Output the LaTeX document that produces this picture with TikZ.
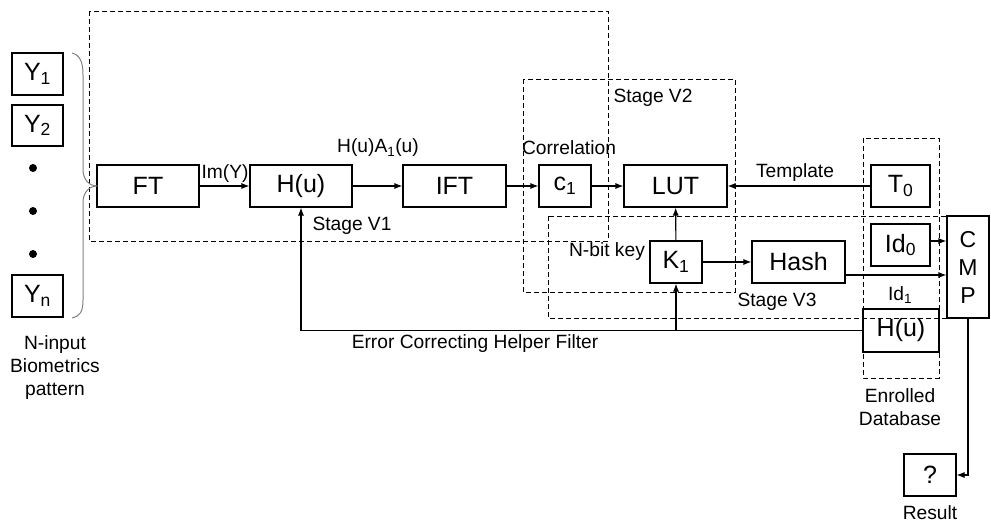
\documentclass[tikz,border=0pt]{standalone}
\usepackage{fontspec}
\setmainfont{Liberation Sans}
\usepackage{tikz}
\usetikzlibrary{arrows.meta}

\begin{document}
\begin{tikzpicture}[x=1pt,y=-1pt,
  box/.style={draw, line width=1.1pt, inner sep=0pt, font=\fontsize{25}{29}\selectfont},
  lbl/.style={inner sep=0pt, font=\fontsize{19.2}{23}\selectfont, align=center},
  arr/.style={line width=1.1pt, -{Latex[length=8pt,width=6pt]}},
  region/.style={line width=0.9pt, dash pattern=on 5pt off 3pt}]
\useasboundingbox (0,0) rectangle (991,524);

% stages
\draw[region] (89,11) rectangle (608,241);
\draw[region] (523,79) rectangle (735,292);
\draw[region] (548,216) rectangle (989,318);
\draw[region] (863,138) rectangle (939,378);

% input pattern
\node[box, minimum width=51, minimum height=42] (y1) at (37.5,74) {Y\textsubscript{1}};
\node[box, minimum width=51, minimum height=41] (y2) at (37.5,125.5) {Y\textsubscript{2}};
\node[box, minimum width=51, minimum height=42] (yn) at (37.5,296) {Y\textsubscript{n}};
\foreach \dy in {168,211,254}
  \fill (33,\dy) circle (4pt);
\node[lbl] (inlbl) at (55,368) {N-input\\Biometrics\\pattern};

% processing chain
\node[box, minimum width=102, minimum height=42] (ft) at (148,186) {FT};
\node[box, minimum width=102, minimum height=42] (hu) at (301,186) {H(u)};
\node[box, minimum width=103, minimum height=42] (ift) at (454.5,186) {IFT};
\node[box, minimum width=52, minimum height=42] (cone) at (565,186) {c\textsubscript{1}};
\node[box, minimum width=103, minimum height=42] (lut) at (675.5,186) {LUT};
\node[box, minimum width=52, minimum height=42] (kone) at (676,262) {K\textsubscript{1}};
\node[box, minimum width=93, minimum height=42] (hash) at (798.5,262) {Hash};

% database
\node[box, minimum width=59, minimum height=42] (tzero) at (900.5,186) {T\textsubscript{0}};
\node[box, minimum width=59, minimum height=42] (idzero) at (900.5,245) {Id\textsubscript{0}};
\node[box, minimum width=76, minimum height=43] (hudb) at (901,330.5) {H(u)};
\node[lbl] (dblbl) at (900,407) {Enrolled\\Database};

% compare
\node[box, minimum width=42, minimum height=102, align=center, font=\fontsize{23}{28}\selectfont] (cmp) at (968,267) {C\\M\\P};
\node[box, minimum width=52, minimum height=42] (result) at (930,475) {?};
\node[lbl] (reslbl) at (930,513) {Result};

% brace
\draw[gray, line width=1pt] (72,53) .. controls (80,55) and (83,62) .. (83,75) -- (83,170)
  .. controls (83,180) and (90,186) .. (ft.west)
  .. controls (90,186) and (83,192) .. (83,202) -- (83,300)
  .. controls (83,312) and (80,316) .. (72,318);

% arrows
\draw[arr] (ft) -- (hu);
\draw[arr] (hu) -- (ift);
\draw[arr] (ift) -- (cone);
\draw[arr] (cone) -- (lut);
\draw[arr] (tzero) -- (lut);
\draw[arr] (kone) -- (lut);
\draw[arr] (kone) -- (hash);
\draw[arr] ([yshift=4pt]idzero.east) -- ([yshift=4pt]idzero.east -| cmp.west);
\draw[arr] ([yshift=-13pt]hash.east) -- ([yshift=-13pt]hash.east -| cmp.west);
\draw[arr] (cmp.south) |- (result.east);
\coordinate (fb) at (kone |- hudb.west);
\draw[arr] (hudb.west) -| (hu.south);
\draw[arr] (fb) -- (kone.south);

% labels
\node[lbl] (imlbl) at (225,174) {Im(Y)};
\node[lbl] (halbl) at (378,148) {H(u)A\textsubscript{1}(u)};
\node[lbl] (vone) at (352,226) {Stage V1};
\node[lbl] (corr) at (569,148) {Correlation};
\node[lbl] (vtwo) at (653,98) {Stage V2};
\node[lbl] (nbit) at (607,252) {N-bit key};
\node[lbl] (tmpl) at (795,173) {Template};
\node[lbl] (vthree) at (777,302) {Stage V3};
\node[lbl] (idone) at (900,295) {Id\textsubscript{1}};
\node[lbl] (fblbl) at (475,344) {Error Correcting Helper Filter};
\end{tikzpicture}
\end{document}
